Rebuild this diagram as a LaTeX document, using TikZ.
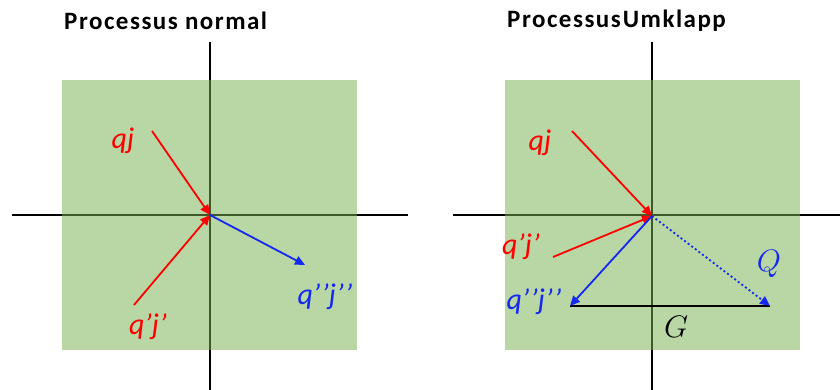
\documentclass[tikz,border=0pt]{standalone}
\usepackage{fontspec}
\setmainfont{Carlito}
\usetikzlibrary{arrows.meta}
\definecolor{pgreen}{RGB}{118,176,78}
\definecolor{pred}{RGB}{255,0,0}
\definecolor{pblue}{RGB}{20,40,240}
\tikzset{
  axis/.style={black, line width=1.8pt},
  panel/.style={fill=pgreen, fill opacity=0.51, draw=none},
  vec/.style={line width=1.8pt, -{Triangle[length=10pt,width=9pt]}},
  lab/.style={font=\fontsize{30}{30}\selectfont\itshape, inner sep=0pt},
  mlab/.style={font=\fontsize{24}{24}\selectfont, inner sep=0pt, scale=1.25},
  ttl/.style={font=\fontsize{25}{25}\selectfont\bfseries\addfontfeature{LetterSpace=6}, inner sep=0pt, anchor=west},
}
\begin{document}
\begin{tikzpicture}[x=1pt,y=-1pt]
\useasboundingbox (0,0) rectangle (840,390);
% titles
\node[ttl] (t1) at (64,21) {Processus normal};
\node[ttl] (t2) at (507,21) {Processus\kern2pt Umklapp};
% left panel
\coordinate (lvt) at (210,42); \coordinate (lvb) at (210,390);
\coordinate (lhl) at (12,215); \coordinate (lhr) at (408,215);
\draw[axis] (lvt) -- (lvb);
\draw[axis] (lhl) -- (lhr);
\fill[panel] (62,80) rectangle (357,350);
\coordinate (o1) at (210,215);
\coordinate (a1) at (152,131);
\coordinate (b1) at (134,305);
\coordinate (c1) at (305,265);
\draw[vec, pred] (a1) -- (o1);
\draw[vec, pred] (b1) -- (o1);
\draw[vec, pblue] (o1) -- (c1);
\node[lab, text=pred] (l1) at (123,141) {qj};
\node[lab, text=pred] (l2) at (148,327) {q’j’};
\node[lab, text=pblue] (l3) at (325,297) {q’\kern1pt’j’\kern1pt’};
% right panel
\coordinate (rvt) at (652,42); \coordinate (rvb) at (652,390);
\coordinate (rhl) at (453,215); \coordinate (rhr) at (840,215);
\draw[axis] (rvt) -- (rvb);
\draw[axis] (rhl) -- (rhr);
\fill[panel] (505,80) rectangle (800,350);
\coordinate (o2) at (652,216);
\coordinate (a2) at (572,131);
\coordinate (b2) at (553,257);
\coordinate (c2) at (570,306);
\coordinate (d2) at (770,306);
\draw[line width=1.8pt, black] (c2) -- (d2);
\draw[vec, pred] (a2) -- (o2);
\draw[vec, pred] (b2) -- (o2);
\draw[vec, pblue] (o2) -- (c2);
\draw[vec, pblue, dash pattern=on 2pt off 2.5pt] (o2) -- (d2);
\node[lab, text=pred] (l4) at (540,143) {qj};
\node[lab, text=pred] (l5) at (521,247) {q’j’};
\node[lab, text=pblue] (l6) at (534,302) {q’\kern1pt’j’\kern1pt’};
\node[mlab, text=pblue] (l7) at (769,264) {$Q$};
\node[mlab] (l8) at (676,327) {$G$};
\end{tikzpicture}
\end{document}
